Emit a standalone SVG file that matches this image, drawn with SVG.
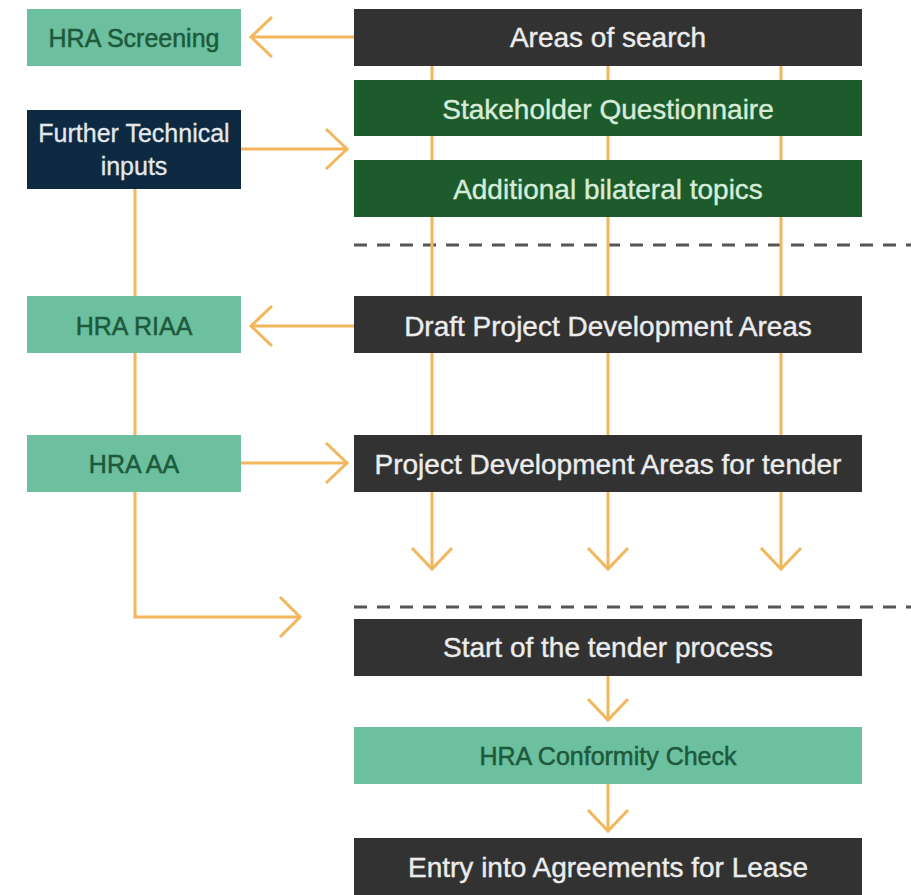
<svg xmlns="http://www.w3.org/2000/svg" width="911" height="895" viewBox="0 0 911 895">
<style>
.dark{fill:#323232}
.green{fill:#1e5b2c}
.teal{fill:#6cc09f}
.navy{fill:#0e2a42}
.tl{font-family:"Liberation Sans",Arial,sans-serif;font-size:28px;fill:#ececec;stroke:#ececec;stroke-width:0.4;text-anchor:middle;dominant-baseline:central}
.tg{fill:#d6ecd9;stroke:#d6ecd9}
.tt{font-family:"Liberation Sans",Arial,sans-serif;font-size:25px;fill:#1d5a3b;stroke:#1d5a3b;stroke-width:0.5;text-anchor:middle;dominant-baseline:central}
.ts{font-family:"Liberation Sans",Arial,sans-serif;font-size:25px;fill:#e4e8ec;stroke:#e4e8ec;stroke-width:0.3;text-anchor:middle;dominant-baseline:central}
.ln{stroke:#f2b65c;stroke-width:3;fill:none}
.hd{stroke:#f2b65c;stroke-width:3;fill:none;stroke-linejoin:miter}
.dash{stroke:#555;stroke-width:3;stroke-dasharray:13 10}
</style>
<rect width="911" height="895" fill="#ffffff"/>
<g id="connectors">
<line class="dash" x1="354" y1="245" x2="911" y2="245"/>
<line class="dash" x1="354" y1="607" x2="911" y2="607"/>
<line class="ln" x1="432" y1="66" x2="432" y2="569"/>
<line class="ln" x1="608" y1="66" x2="608" y2="569"/>
<line class="ln" x1="781" y1="66" x2="781" y2="569"/>
<polyline class="hd" points="412,548 432,569 452,548"/>
<polyline class="hd" points="588,548 608,569 628,548"/>
<polyline class="hd" points="761,548 781,569 801,548"/>
<line class="ln" x1="354" y1="37" x2="251" y2="37"/>
<polyline class="hd" points="272,17 251,37 272,57"/>
<line class="ln" x1="241" y1="149" x2="347" y2="149"/>
<polyline class="hd" points="326,129 347,149 326,169"/>
<line class="ln" x1="354" y1="326" x2="251" y2="326"/>
<polyline class="hd" points="272,306 251,326 272,346"/>
<line class="ln" x1="241" y1="463" x2="347" y2="463"/>
<polyline class="hd" points="326,443 347,463 326,483"/>
<polyline class="ln" points="135,189 135,617 300,617"/>
<polyline class="hd" points="280,597 300,617 280,637"/>
<line class="ln" x1="608" y1="676" x2="608" y2="720"/>
<polyline class="hd" points="588,699 608,720 628,699"/>
<line class="ln" x1="608" y1="784" x2="608" y2="831"/>
<polyline class="hd" points="588,810 608,831 628,810"/>
</g>
<g id="hra-screening"><rect class="teal" x="27" y="9" width="214" height="57"/><text class="tt" x="134" y="38">HRA Screening</text></g>
<g id="further-technical"><rect class="navy" x="27" y="110" width="214" height="79"/><text class="ts" x="134" y="133">Further Technical</text><text class="ts" x="134" y="166">inputs</text></g>
<g id="hra-riaa"><rect class="teal" x="27" y="296" width="214" height="57"/><text class="tt" x="134" y="326">HRA RIAA</text></g>
<g id="hra-aa"><rect class="teal" x="27" y="435" width="214" height="57"/><text class="tt" x="134" y="464">HRA AA</text></g>
<g id="areas-of-search"><rect class="dark" x="354" y="9" width="508" height="57"/><text class="tl" x="608" y="37">Areas of search</text></g>
<g id="stakeholder"><rect class="green" x="354" y="80" width="508" height="56"/><text class="tl tg" x="608" y="109">Stakeholder Questionnaire</text></g>
<g id="bilateral"><rect class="green" x="354" y="160" width="508" height="57"/><text class="tl tg" x="608" y="189">Additional bilateral topics</text></g>
<g id="draft-pda"><rect class="dark" x="354" y="296" width="508" height="57"/><text class="tl" x="608" y="326">Draft Project Development Areas</text></g>
<g id="pda-tender"><rect class="dark" x="354" y="435" width="508" height="57"/><text class="tl" x="608" y="464">Project Development Areas for tender</text></g>
<g id="start-tender"><rect class="dark" x="354" y="619" width="508" height="57"/><text class="tl" x="608" y="647">Start of the tender process</text></g>
<g id="hra-conformity"><rect class="teal" x="354" y="727" width="508" height="57"/><text class="tt" x="608" y="756">HRA Conformity Check</text></g>
<g id="entry-afl"><rect class="dark" x="354" y="838" width="508" height="57"/><text class="tl" x="608" y="867">Entry into Agreements for Lease</text></g>
</svg>
